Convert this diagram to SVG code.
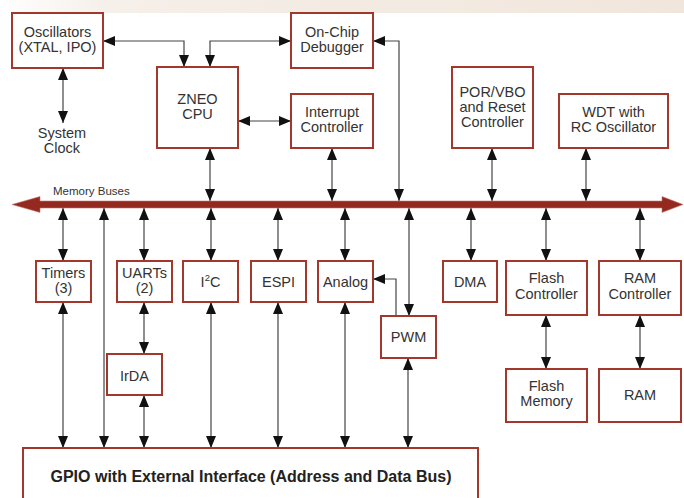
<svg xmlns="http://www.w3.org/2000/svg" width="684" height="498" viewBox="0 0 684 498">
<defs>
<linearGradient id="topbg" x1="0" y1="0" x2="1" y2="0">
<stop offset="0" stop-color="#ffffff"/>
<stop offset="0.15" stop-color="#f6f0ea"/>
<stop offset="0.5" stop-color="#f3ebe2"/>
<stop offset="1" stop-color="#f1e6dc"/>
</linearGradient>
<marker id="ah" markerUnits="userSpaceOnUse" markerWidth="12" markerHeight="10" viewBox="0 0 12 10" refX="12" refY="5" orient="auto-start-reverse">
<path d="M0,0 L12,5 L0,10 z" fill="#111"/>
</marker>
</defs>
<style>
.box{fill:#ffffff;stroke:#a3372c;stroke-width:2}
.t{font-family:"Liberation Sans",Arial,sans-serif;font-size:14.5px;fill:#333;text-anchor:middle}
.c{fill:none;stroke:#444;stroke-width:1.2;marker-start:url(#ah);marker-end:url(#ah)}
.c1{fill:none;stroke:#444;stroke-width:1.2;marker-end:url(#ah)}
</style>
<rect x="0" y="0" width="684" height="498" fill="#ffffff"/>
<rect x="0" y="0" width="684" height="13" fill="url(#topbg)"/>

<g id="connectors">
<path class="c" d="M103,41 H184 V67"/>
<path class="c" d="M210,67 V41 H291"/>
<path class="c" d="M63,68 V123"/>
<path class="c" d="M238,121 H291"/>
<path class="c" d="M210,148 V201"/>
<path class="c" d="M332,148 V201"/>
<path class="c" d="M373,41 H399 V201"/>
<path class="c" d="M492,148 V201"/>
<path class="c" d="M586,148 V201"/>
<path class="c" d="M63,208 V261"/>
<path class="c" d="M104,208 V448"/>
<path class="c" d="M144,208 V261"/>
<path class="c" d="M211,208 V261"/>
<path class="c" d="M278,208 V261"/>
<path class="c" d="M345,208 V261"/>
<path class="c" d="M409,208 V316"/>
<path class="c" d="M471,208 V261"/>
<path class="c" d="M546,208 V261"/>
<path class="c" d="M640,208 V261"/>
<path class="c" d="M63,302 V448"/>
<path class="c" d="M144,302 V354"/>
<path class="c" d="M144,395 V448"/>
<path class="c" d="M211,302 V448"/>
<path class="c" d="M278,302 V448"/>
<path class="c" d="M345,302 V448"/>
<path class="c" d="M408,358 V448"/>
<path class="c1" d="M396,316 V279 H373"/>
<path class="c" d="M546,315 V369"/>
<path class="c" d="M640,315 V369"/>
</g>

<g id="bus">
<path d="M40,201 H662 V196.5 L683,204.5 L662,212.5 V208 H40 V212.5 L12,204.5 L40,196.5 z" fill="#93291f" stroke="#c87a70" stroke-width="0.6"/>
<text x="53" y="195" style="font-family:'Liberation Sans',Arial,sans-serif;font-size:11.5px;fill:#333">Memory Buses</text>
</g>

<g id="oscillators"><rect class="box" x="12" y="13" width="91" height="55"/><text class="t" x="57.5" y="37">Oscillators</text><text class="t" x="57.5" y="52">(XTAL, IPO)</text></g>
<g id="sysclock"><text class="t" x="62" y="138">System</text><text class="t" x="62" y="153">Clock</text></g>
<g id="cpu"><rect class="box" x="157" y="67" width="81" height="81"/><text class="t" x="197.5" y="104">ZNEO</text><text class="t" x="197.5" y="119">CPU</text></g>
<g id="debugger"><rect class="box" x="291" y="13" width="82" height="55"/><text class="t" x="332" y="37">On-Chip</text><text class="t" x="332" y="52">Debugger</text></g>
<g id="interrupt"><rect class="box" x="291" y="94" width="82" height="54"/><text class="t" x="332" y="117">Interrupt</text><text class="t" x="332" y="132">Controller</text></g>
<g id="por"><rect class="box" x="452" y="67" width="81" height="81"/><text class="t" x="492.5" y="97">POR/VBO</text><text class="t" x="492.5" y="112">and Reset</text><text class="t" x="492.5" y="127">Controller</text></g>
<g id="wdt"><rect class="box" x="559" y="94" width="109" height="54"/><text class="t" x="613.5" y="117">WDT with</text><text class="t" x="613.5" y="132">RC Oscillator</text></g>

<g id="timers"><rect class="box" x="36" y="261" width="55" height="41"/><text class="t" x="63.5" y="278">Timers</text><text class="t" x="63.5" y="293">(3)</text></g>
<g id="uarts"><rect class="box" x="117" y="261" width="55" height="41"/><text class="t" x="144.5" y="278">UARTs</text><text class="t" x="144.5" y="293">(2)</text></g>
<g id="i2c"><rect class="box" x="183" y="261" width="55" height="41"/><text class="t" x="210.5" y="287">I<tspan font-size="9.5" dy="-6">2</tspan><tspan dy="6">C</tspan></text></g>
<g id="espi"><rect class="box" x="251" y="261" width="55" height="41"/><text class="t" x="278.5" y="287">ESPI</text></g>
<g id="analog"><rect class="box" x="318" y="261" width="55" height="41"/><text class="t" x="345.5" y="287">Analog</text></g>
<g id="pwm"><rect class="box" x="381" y="316" width="55" height="42"/><text class="t" x="408.5" y="342">PWM</text></g>
<g id="dma"><rect class="box" x="443" y="261" width="54" height="41"/><text class="t" x="470" y="287">DMA</text></g>
<g id="flashctrl"><rect class="box" x="506" y="261" width="81" height="54"/><text class="t" x="546.5" y="283">Flash</text><text class="t" x="546.5" y="299">Controller</text></g>
<g id="ramctrl"><rect class="box" x="599" y="261" width="82" height="54"/><text class="t" x="640" y="283">RAM</text><text class="t" x="640" y="299">Controller</text></g>
<g id="flashmem"><rect class="box" x="506" y="369" width="81" height="53"/><text class="t" x="546.5" y="391">Flash</text><text class="t" x="546.5" y="406">Memory</text></g>
<g id="ram"><rect class="box" x="599" y="369" width="82" height="53"/><text class="t" x="640" y="400">RAM</text></g>
<g id="irda"><rect class="box" x="107" y="354" width="55" height="41"/><text class="t" x="134.5" y="381">IrDA</text></g>
<g id="gpio"><rect class="box" x="23" y="448" width="455" height="60"/><text x="251" y="482" style="font-family:'Liberation Sans',Arial,sans-serif;font-size:16px;font-weight:bold;fill:#222;text-anchor:middle">GPIO with External Interface (Address and Data Bus)</text></g>
</svg>
